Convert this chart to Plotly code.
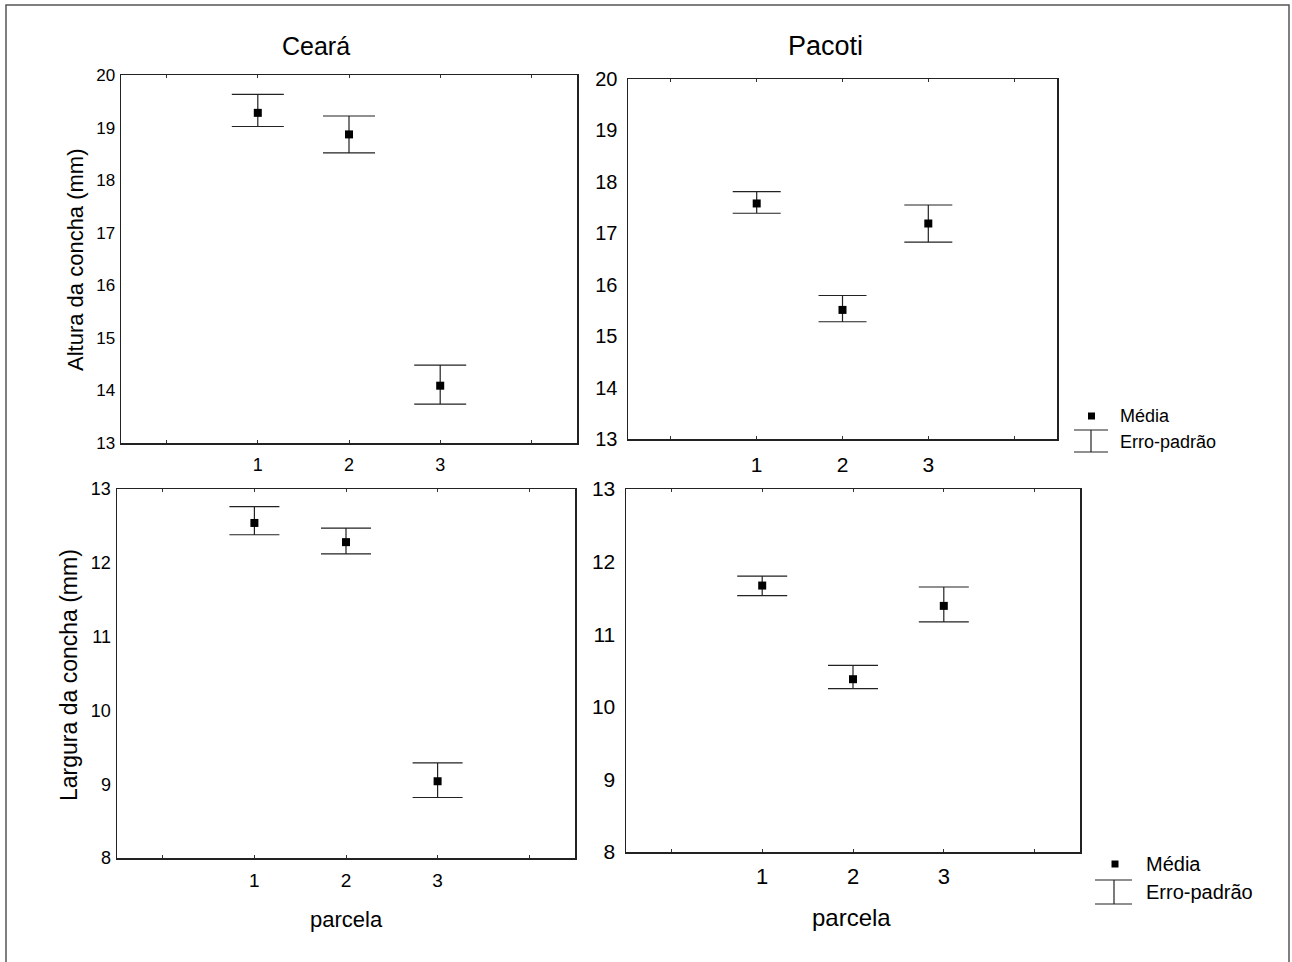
import plotly.graph_objects as go

# ---- data ----
parcela = [1, 2, 3]
tick_vals = [0, 1, 2, 3, 4]
tick_text = ["", "1", "2", "3", ""]

ceara_altura_mean = [19.28, 18.87, 14.09]
ceara_altura_upper = [19.63, 19.22, 14.48]
ceara_altura_lower = [19.02, 18.52, 13.74]

pacoti_altura_mean = [17.58, 15.51, 17.19]
pacoti_altura_upper = [17.81, 15.79, 17.55]
pacoti_altura_lower = [17.39, 15.28, 16.83]

ceara_largura_mean = [12.54, 12.28, 9.04]
ceara_largura_upper = [12.76, 12.47, 9.29]
ceara_largura_lower = [12.38, 12.12, 8.82]

pacoti_largura_mean = [11.67, 10.38, 11.39]
pacoti_largura_upper = [11.80, 10.57, 11.65]
pacoti_largura_lower = [11.53, 10.25, 11.17]

W, H = 1292, 962
FONT = "Liberation Sans, Arial, sans-serif"


def px(x):
    return x / W


def py(y):
    return 1 - y / H


fig = go.Figure()

panels = [
    # (mean, upper, lower, xaxis, yaxis, xdom px, ydom px, yrange, capw,
    #  ytickfont, xtickfont, ystandoff, xstandoff)
    (ceara_altura_mean, ceara_altura_upper, ceara_altura_lower, "x", "y",
     (121, 577), (75, 443), (13, 20), 26, 17, 18, 1, 5),
    (pacoti_altura_mean, pacoti_altura_upper, pacoti_altura_lower, "x2", "y2",
     (628, 1057), (79, 439), (13, 20), 24, 20, 21, 5, 6),
    (ceara_largura_mean, ceara_largura_upper, ceara_largura_lower, "x3", "y3",
     (117, 575), (489, 858), (8, 13), 25, 18, 19, 1, 5),
    (pacoti_largura_mean, pacoti_largura_upper, pacoti_largura_lower, "x4", "y4",
     (626, 1080), (489, 852), (8, 13), 25, 21, 22, 5, 4),
]

layout_axes = {}
for i, (m, up, lo, xa, ya, xd, yd, yr, capw, yfs, xfs, ysd, xsd) in enumerate(panels):
    fig.add_trace(go.Scatter(
        x=parcela, y=m, mode="markers",
        marker=dict(symbol="square", size=8, color="black"),
        error_y=dict(type="data", symmetric=False,
                     array=[u - v for u, v in zip(up, m)],
                     arrayminus=[v - l for v, l in zip(m, lo)],
                     color="#222", thickness=1.2, width=capw),
        xaxis=xa, yaxis=ya, showlegend=False, hoverinfo="skip"))
    n = "" if i == 0 else str(i + 1)
    layout_axes["xaxis" + n] = dict(
        domain=[px(xd[0]), px(xd[1])], range=[-0.5, 4.5], anchor="y" + n,
        tickvals=tick_vals, ticktext=tick_text, ticks="inside", ticklen=3,
        tickcolor="#333", mirror="ticks", showline=True, linecolor="#222",
        linewidth=1.5, showgrid=False, zeroline=False, automargin=False,
        tickfont=dict(family=FONT, size=xfs, color="black"),
        ticklabelstandoff=xsd)
    layout_axes["yaxis" + n] = dict(
        domain=[py(yd[1]), py(yd[0])], range=list(yr), anchor="x" + n,
        dtick=1, ticks="", mirror=True, showline=True, linecolor="#222",
        linewidth=1.5, showgrid=False, zeroline=False, automargin=False,
        tickfont=dict(family=FONT, size=yfs, color="black"),
        ticklabelstandoff=ysd)

annotations = [
    dict(text="Ceará", x=px(316), y=py(46), font=dict(size=25)),
    dict(text="Pacoti", x=px(825), y=py(46), font=dict(size=27)),
    dict(text="Altura da concha (mm)", x=px(75), y=py(260), textangle=-90,
         font=dict(size=22)),
    dict(text="Largura da concha (mm)", x=px(69), y=py(675), textangle=-90,
         font=dict(size=23)),
    dict(text="parcela", x=px(346), y=py(919), font=dict(size=22)),
    dict(text="parcela", x=px(852), y=py(917), font=dict(size=24)),
    dict(text="Média", x=px(1118), y=py(416), xanchor="left", font=dict(size=18)),
    dict(text="Erro-padrão", x=px(1118), y=py(442), xanchor="left", font=dict(size=18)),
    dict(text="Média", x=px(1144), y=py(864), xanchor="left", font=dict(size=20)),
    dict(text="Erro-padrão", x=px(1144), y=py(892), xanchor="left", font=dict(size=20)),
]
for a in annotations:
    a.setdefault("xanchor", "center")
    a.update(xref="paper", yref="paper", yanchor="middle", showarrow=False)
    a["font"].update(family=FONT, color="black")

line = dict(color="#222", width=1.2)
shapes = [
    # outer frame (bottom edge falls outside the page)
    dict(type="path", xref="paper", yref="paper",
         path=f"M {px(6)},{0} L {px(6)},{py(5)} L {px(1289)},{py(5)} L {px(1289)},{0}",
         line=dict(color="#555", width=1.5)),
    # legend glyphs (top)
    dict(type="rect", xref="paper", yref="paper", x0=px(1088), x1=px(1095),
         y0=py(419.5), y1=py(412.5), fillcolor="black", line=dict(width=0)),
    dict(type="line", xref="paper", yref="paper", x0=px(1074), x1=px(1108),
         y0=py(430), y1=py(430), line=line),
    dict(type="line", xref="paper", yref="paper", x0=px(1074), x1=px(1108),
         y0=py(452), y1=py(452), line=line),
    dict(type="line", xref="paper", yref="paper", x0=px(1091), x1=px(1091),
         y0=py(430), y1=py(452), line=line),
    # legend glyphs (bottom)
    dict(type="rect", xref="paper", yref="paper", x0=px(1111.5), x1=px(1118.5),
         y0=py(867.5), y1=py(860.5), fillcolor="black", line=dict(width=0)),
    dict(type="line", xref="paper", yref="paper", x0=px(1095), x1=px(1132),
         y0=py(880), y1=py(880), line=line),
    dict(type="line", xref="paper", yref="paper", x0=px(1095), x1=px(1132),
         y0=py(904), y1=py(904), line=line),
    dict(type="line", xref="paper", yref="paper", x0=px(1114), x1=px(1114),
         y0=py(880), y1=py(904), line=line),
]

fig.update_layout(
    width=W, height=H, autosize=False,
    margin=dict(l=0, r=0, t=0, b=0, pad=0, autoexpand=False),
    showlegend=False,
    paper_bgcolor="white", plot_bgcolor="white",
    annotations=annotations, shapes=shapes,
    font=dict(family=FONT, color="black"),
    **layout_axes)

post = (
    "document.body.style.margin='0';"
    "document.body.style.overflow='hidden';"
)

fig.write_html("out.html", post_script=post,
               config={"displayModeBar": False, "staticPlot": True})
